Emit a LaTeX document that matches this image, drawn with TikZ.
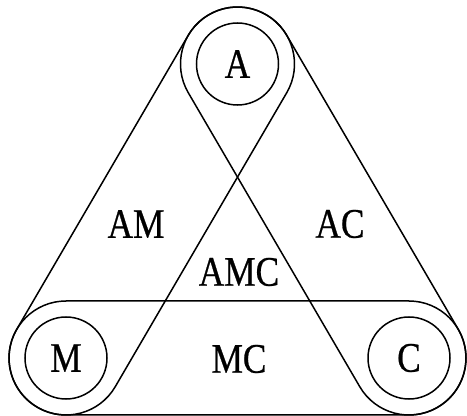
\documentclass[tikz,border=0pt]{standalone}
\usepackage{fontspec}
\setmainfont{Liberation Serif}[FakeStretch=0.84, FakeBold=0.6]
\usetikzlibrary{calc}

\begin{document}
\begin{tikzpicture}[
    x=1pt, y=1pt,
    font=\fontsize{42}{44}\selectfont,
    band/.style={draw, line width=1.5pt},
    ring/.style={draw, circle, line width=1.5pt, inner sep=0pt, minimum size=82pt},
    lbl/.style={inner sep=0pt}
]
\useasboundingbox (0,0) rectangle (467,416);

% ---- centres and band radius ----
\def\R{57pt}
\def\xA{237.5}
\def\yA{352}
\def\xM{66}
\def\xC{409}
\def\yB{58}

% capsule round two rings
\def\capsule#1#2{%
  \draw[band] let \p1=($(#2.center)-(#1.center)$), \n1={atan2(\y1,\x1)} in
    ($(#1.center)+(\n1+90:\R)$) arc[start angle=\n1+90, delta angle=180, radius=\R]
    -- ($(#2.center)+(\n1-90:\R)$) arc[start angle=\n1-90, delta angle=180, radius=\R]
    -- cycle;}

% ===== RINGS =====
\node[ring] (A) at (\xA,\yA) {A};
\node[ring] (M) at (\xM,\yB) {M};
\node[ring] (C) at (\xC,\yB) {C};

% ===== BANDS =====
\capsule{A}{M}
\capsule{A}{C}
\capsule{M}{C}

% ===== REGION LABELS =====
\node[lbl] (am)  at (136,192) {AM};
\node[lbl] (ac)  at (340,192) {AC};
\node[lbl] (amc) at (239,144) {AMC};
\node[lbl] (mc)  at (239,57)  {MC};

\end{tikzpicture}
\end{document}
